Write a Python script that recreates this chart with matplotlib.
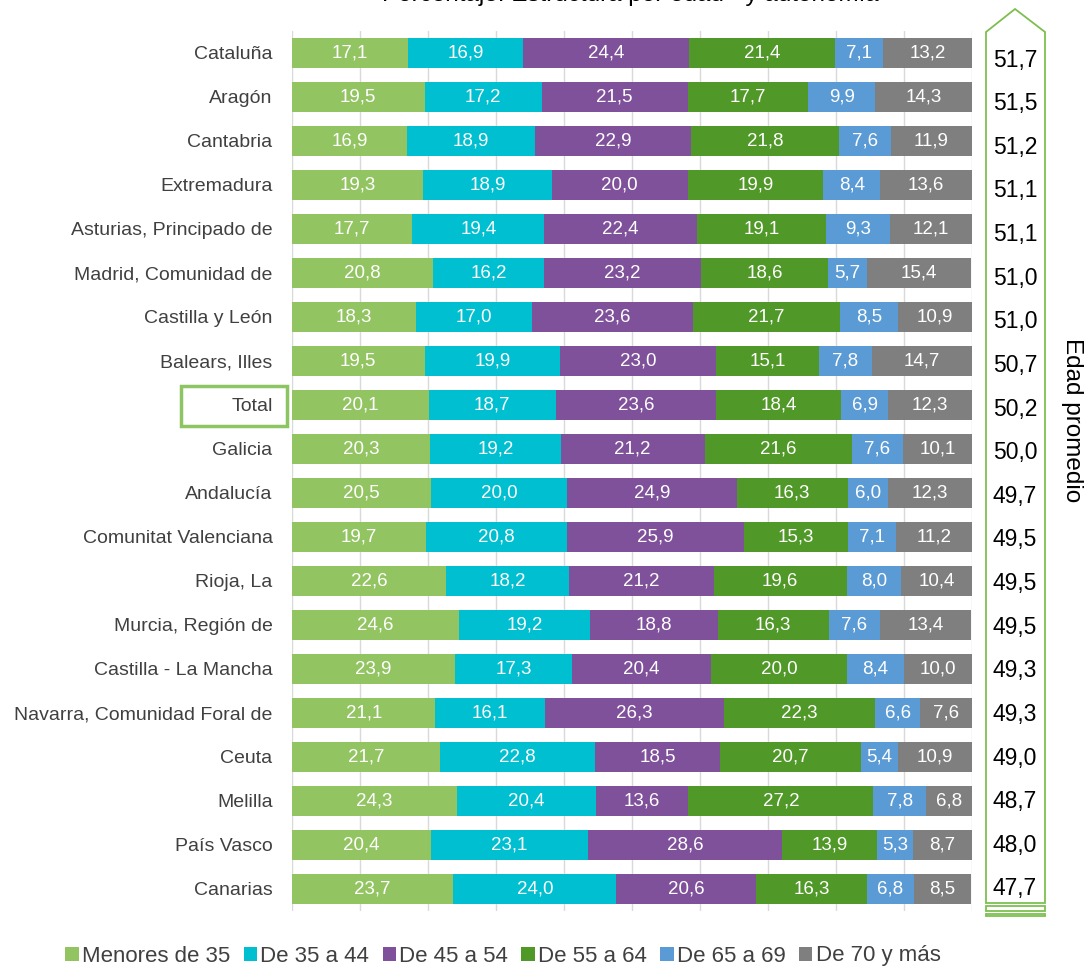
import matplotlib
matplotlib.use("Agg")
import matplotlib.pyplot as plt
from matplotlib.patches import Rectangle, Polygon, Patch

plt.rcParams['font.family'] = ['Liberation Sans', 'DejaVu Sans']

categories = ["Cataluña", "Aragón", "Cantabria", "Extremadura", "Asturias, Principado de",
              "Madrid, Comunidad de", "Castilla y León", "Balears, Illes", "Total", "Galicia",
              "Andalucía", "Comunitat Valenciana", "Rioja, La", "Murcia, Región de",
              "Castilla - La Mancha", "Navarra, Comunidad Foral de", "Ceuta", "Melilla",
              "País Vasco", "Canarias"]

menores35 = [17.1, 19.5, 16.9, 19.3, 17.7, 20.8, 18.3, 19.5, 20.1, 20.3, 20.5, 19.7, 22.6, 24.6, 23.9, 21.1, 21.7, 24.3, 20.4, 23.7]
de35_44 = [16.9, 17.2, 18.9, 18.9, 19.4, 16.2, 17.0, 19.9, 18.7, 19.2, 20.0, 20.8, 18.2, 19.2, 17.3, 16.1, 22.8, 20.4, 23.1, 24.0]
de45_54 = [24.4, 21.5, 22.9, 20.0, 22.4, 23.2, 23.6, 23.0, 23.6, 21.2, 24.9, 25.9, 21.2, 18.8, 20.4, 26.3, 18.5, 13.6, 28.6, 20.6]
de55_64 = [21.4, 17.7, 21.8, 19.9, 19.1, 18.6, 21.7, 15.1, 18.4, 21.6, 16.3, 15.3, 19.6, 16.3, 20.0, 22.3, 20.7, 27.2, 13.9, 16.3]
de65_69 = [7.1, 9.9, 7.6, 8.4, 9.3, 5.7, 8.5, 7.8, 6.9, 7.6, 6.0, 7.1, 8.0, 7.6, 8.4, 6.6, 5.4, 7.8, 5.3, 6.8]
de70 = [13.2, 14.3, 11.9, 13.6, 12.1, 15.4, 10.9, 14.7, 12.3, 10.1, 12.3, 11.2, 10.4, 13.4, 10.0, 7.6, 10.9, 6.8, 8.7, 8.5]
edad_promedio = [51.7, 51.5, 51.2, 51.1, 51.1, 51.0, 51.0, 50.7, 50.2, 50.0, 49.7, 49.5, 49.5, 49.5, 49.3, 49.3, 49.0, 48.7, 48.0, 47.7]

series_names = ["Menores de 35", "De 35 a 44", "De 45 a 54", "De 55 a 64", "De 65 a 69", "De 70 y más"]
series = [menores35, de35_44, de45_54, de55_64, de65_69, de70]
colors = ["#93C462", "#00BFD0", "#7F519A", "#509827", "#5B9BD5", "#7F7F7F"]

W, H = 1087, 966
fig = plt.figure(figsize=(W / 100, H / 100), dpi=100)

def fx(px):
    return px / W

def fy(py):
    return 1 - py / H

ax = fig.add_axes([fx(292), fy(911), fx(972) - fx(292), fy(31) - fy(911)])

y = list(range(len(categories)))
left = [0.0] * len(categories)
for name, vals, col in zip(series_names, series, colors):
    bars = ax.barh(y, vals, left=left, height=0.7, color=col, label=name, zorder=3)
    ax.bar_label(bars, labels=[f"{v:.1f}".replace('.', ',') for v in vals],
                 label_type='center', color='white', fontsize=13.5, zorder=4)
    left = [a + b for a, b in zip(left, vals)]

ax.set_xlim(0, 100)
ax.set_ylim(len(categories) - 0.5, -0.5)
ax.set_xticks(range(0, 101, 10))
ax.set_xticklabels([])
ax.tick_params(axis='x', length=0)
ax.grid(axis='x', color='#D9D9D9', linewidth=1, zorder=0)
ax.set_yticks(y)
ax.set_yticklabels(categories, fontsize=14, color='#404040')
ax.tick_params(axis='y', length=0, pad=14)
for s in ax.spines.values():
    s.set_visible(False)

# Box around "Total"
fig.patches.append(Rectangle((fx(181), fy(426)), fx(287) - fx(181), fy(386) - fy(426),
                             transform=fig.transFigure, fill=False,
                             edgecolor='#8DC563', linewidth=2.5))

# Arrow-shaped box on the right
green = '#7DBF4F'
pts = [(986, 903), (986, 32), (1015, 9), (1045, 32), (1045, 903)]
fig.patches.append(Polygon([(fx(a), fy(b)) for a, b in pts], closed=True,
                           transform=fig.transFigure, fill=False,
                           edgecolor=green, linewidth=1.3))
for top, bot in [(906, 911), (914, 916)]:
    fig.patches.append(Rectangle((fx(986), fy(bot)), fx(1045) - fx(986), fy(top) - fy(bot),
                                 transform=fig.transFigure, fill=False,
                                 edgecolor=green, linewidth=1.3))

n = len(edad_promedio)
for i, v in enumerate(edad_promedio):
    py = 60 + (889 - 60) * i / (n - 1)
    fig.text(fx(1015), fy(py), f"{v:.1f}".replace('.', ','), ha='center', va='center',
             fontsize=16.5, color='black')

fig.text(fx(1072), fy(420), "Edad promedio", rotation=270, ha='center', va='center',
         fontsize=17.5, color='black')

# Title (cut off at the top, as in the reference)
fig.text(fx(630), fy(1.5), "Porcentaje. Estructura por edad - y autonomía", ha='center',
         va='baseline', fontsize=17.5, color='black')

handles = [Patch(facecolor=c, label=nm) for nm, c in zip(series_names, colors)]
fig.legend(handles=handles, loc='center', bbox_to_anchor=(fx(503), fy(956)), ncol=6,
           frameon=False, fontsize=16, handlelength=0.6, handleheight=0.6,
           handletextpad=0.15, columnspacing=0.6, labelcolor='#404040')

fig.savefig("out.png", dpi=100)
